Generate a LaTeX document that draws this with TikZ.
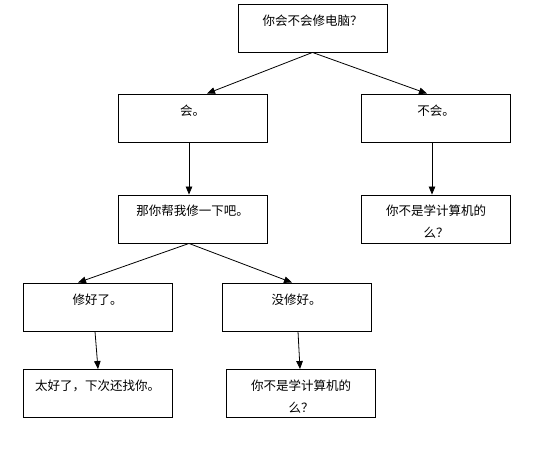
\documentclass[tikz,border=0pt]{standalone}
\usepackage{fontspec}
\setmainfont{Noto Sans CJK SC}
\usetikzlibrary{arrows.meta}
\tikzset{
  box/.style={draw=black, line width=0.9pt, minimum width=149pt, minimum height=48pt, inner sep=0pt, fill=white},
  txt/.style={anchor=north, inner sep=0pt, align=center, font=\fontsize{12.5}{22}\selectfont},
  arr/.style={-{Triangle[length=8pt,width=6.5pt]}, line width=0.8pt, black}
}
\begin{document}
\begin{tikzpicture}[x=1pt,y=-1pt]
\useasboundingbox[fill=white] (0,0) rectangle (545,450);
% boxes
\node[box] (b1) at (312.5,28) {};
\node[box] (b2) at (192.5,118) {};
\node[box] (b3) at (436,118) {};
\node[box] (b4) at (192.5,219) {};
\node[box] (b5) at (436,219) {};
\node[box] (b6) at (97.5,307) {};
\node[box] (b7) at (296.5,307) {};
\node[box] (b8) at (97.5,393.5) {};
\node[box] (b9) at (301,393.5) {};
% texts
\node[txt] (t1) at ([yshift=-11]b1.north) {你会不会修电脑？};
\node[txt] (t2) at ([yshift=-11]b2.north) {会。};
\node[txt] (t3) at ([yshift=-11]b3.north) {不会。};
\node[txt] (t4) at ([yshift=-10]b4.north) {那你帮我修一下吧。};
\node[txt] (t5) at ([yshift=-10.5]b5.north) {你不是学计算机的\\么？};
\node[txt] (t6) at ([yshift=-11]b6.north) {修好了。};
\node[txt] (t7) at ([yshift=-11]b7.north) {没修好。};
\node[txt] (t8) at ([yshift=-10.5]b8.north) {太好了，下次还找你。};
\node[txt] (t9) at ([yshift=-10.5]b9.north) {你不是学计算机的\\么？};
% connectors
\draw[arr] (b1.south) -- ([xshift=14.5]b2.north);
\draw[arr] (b1.south) -- ([xshift=-9]b3.north);
\draw[arr] ([xshift=-3.5]b2.south) -- ([xshift=-3.5]b4.north);
\draw[arr] ([xshift=-4]b3.south) -- ([xshift=-4]b5.north);
\draw[arr] ([xshift=-3.5]b4.south) -- ([xshift=-19.5]b6.north);
\draw[arr] ([xshift=-3.5]b4.south) -- ([xshift=-4.5]b7.north);
\draw[arr] ([xshift=-2.5]b6.south) -- ([xshift=0.5]b8.north);
\draw[arr] ([xshift=1.5]b7.south) -- ([xshift=-1]b9.north);
\end{tikzpicture}
\end{document}
